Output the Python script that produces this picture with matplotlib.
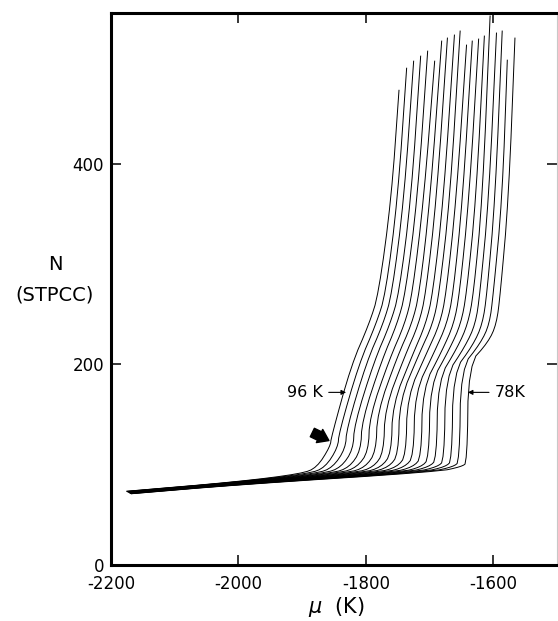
import numpy as np
import matplotlib
matplotlib.use("Agg")
import matplotlib.pyplot as plt

plt.rcParams['font.family'] = 'DejaVu Sans'
plt.rcParams['axes.unicode_minus'] = False

# isotherms, 96 K (left) down to 78 K (right)
temps = [96, 95, 94, 93, 92, 91, 90, 89, 88, 87, 86, 85, 84, 83, 82, 81, 80, 79, 78]

# low-coverage branch
start_mu = [-2175, -2175, -2174, -2174, -2173, -2173, -2172, -2172, -2171, -2171,
            -2171, -2170, -2170, -2170, -2169, -2169, -2169, -2168, -2168]
start_N = [73.5, 73.4, 73.2, 73.1, 73.0, 72.8, 72.7, 72.5, 72.4, 72.3,
           72.1, 72.0, 71.8, 71.7, 71.6, 71.4, 71.3, 71.1, 71.0]
N_2000 = [83.0, 82.8, 82.7, 82.5, 82.3, 82.2, 82.0, 81.8, 81.7, 81.5,
          81.3, 81.2, 81.0, 80.8, 80.7, 80.5, 80.3, 80.2, 80.0]
approach_mu = [-1901, -1889, -1877, -1865, -1853, -1841, -1829, -1817, -1805, -1794,
               -1782, -1770, -1758, -1746, -1734, -1722, -1710, -1698, -1686]
approach_N = [91.0, 91.1, 91.2, 91.3, 91.4, 91.6, 91.7, 91.8, 91.9, 92.0,
              92.1, 92.2, 92.3, 92.4, 92.6, 92.7, 92.8, 92.9, 93.0]
foot_mu = [-1877, -1864, -1852, -1839, -1826, -1814, -1801, -1788, -1776, -1764,
           -1751, -1739, -1726, -1713, -1701, -1688, -1675, -1663, -1650]
foot_N = [97.0, 97.1, 97.1, 97.2, 97.2, 97.3, 97.3, 97.4, 97.4, 97.5,
          97.6, 97.6, 97.7, 97.7, 97.8, 97.8, 97.9, 97.9, 98.0]

# vertical step
step_mu = [-1856, -1844, -1832, -1820, -1808, -1796, -1784, -1772, -1760, -1749,
           -1737, -1725, -1713, -1701, -1689, -1677, -1665, -1653, -1641]
step_N = [118, 117, 116, 115, 114, 113, 113, 112, 111, 110,
          109, 108, 107, 106, 105, 104, 104, 103, 102]
knee_mu = [-1854, -1842, -1830, -1818, -1806, -1794, -1782, -1770, -1758, -1747,
           -1735, -1723, -1711, -1699, -1687, -1675, -1663, -1651, -1639]
knee_N = [128, 132, 136, 140, 144, 148, 152, 156, 160, 164,
          168, 172, 176, 180, 184, 188, 192, 196, 200]

# shoulder and upper branch
shoulder_mu = [-1823, -1811, -1799, -1787, -1775, -1763, -1751, -1739, -1727, -1716,
               -1704, -1692, -1680, -1668, -1656, -1644, -1632, -1620, -1608]
shoulder_N = [199, 200, 202, 203, 204, 205, 207, 208, 209, 211,
              212, 213, 214, 216, 217, 218, 219, 221, 222]
mu_240 = [-1795, -1784, -1773, -1762, -1751, -1739, -1728, -1717, -1706, -1695,
          -1684, -1673, -1662, -1651, -1640, -1628, -1617, -1606, -1595]
mu_270 = [-1780, -1769, -1759, -1748, -1738, -1727, -1716, -1706, -1695, -1685,
          -1674, -1663, -1653, -1642, -1631, -1621, -1610, -1600, -1589]
mu_365 = [-1760, -1750, -1740, -1729, -1719, -1709, -1699, -1689, -1678, -1668,
          -1658, -1648, -1638, -1627, -1617, -1607, -1597, -1586, -1576]
top_mu = [-1748, -1736, -1725, -1714, -1703, -1692, -1681, -1672, -1661, -1652,
          -1642, -1633, -1623, -1614, -1605, -1595, -1586, -1578, -1566]
top_N = [473, 495, 502, 507, 512, 502, 522, 525, 528, 532,
         518, 522, 524, 527, 547, 530, 532, 503, 525]


def chaikin(x, y, n=2):
    p = np.column_stack([x, y]).astype(float)
    for _ in range(n):
        q = 0.75 * p[:-1] + 0.25 * p[1:]
        r = 0.25 * p[:-1] + 0.75 * p[1:]
        mid = np.empty((2 * len(q), 2))
        mid[0::2] = q
        mid[1::2] = r
        p = np.vstack([p[:1], mid, p[-1:]])
    return p[:, 0], p[:, 1]


fig = plt.figure(figsize=(5.58, 6.21), dpi=100)
ax = fig.add_axes([111 / 558, 56 / 621, 446 / 558, 552 / 621])

for i in range(len(temps)):
    mu = [start_mu[i], -2000, approach_mu[i], foot_mu[i], step_mu[i], knee_mu[i],
          shoulder_mu[i], mu_240[i], mu_270[i], mu_365[i], top_mu[i]]
    n = [start_N[i], N_2000[i], approach_N[i], foot_N[i], step_N[i], knee_N[i],
         shoulder_N[i], 240, 270, 365, top_N[i]]
    xs, ys = chaikin(mu, n)
    ax.plot(xs, ys, color='black', lw=0.7)

ax.set_xlim(-2200, -1500)
ax.set_ylim(0, 550)
ax.set_xticks([-2200, -2000, -1800, -1600])
ax.set_xticklabels(['-2200', '-2000', '-1800', '-1600'])
ax.set_yticks([0, 200, 400])
ax.tick_params(direction='in', length=7.5, width=1.1, labelsize=12,
               top=True, right=True, colors='black')
ax.tick_params(axis='x', pad=7)
ax.tick_params(axis='y', pad=5)
for side in ['left', 'top', 'bottom']:
    ax.spines[side].set_linewidth(2.2)
ax.spines['right'].set_linewidth(0.8)
ax.spines['right'].set_color('#c8c8c8')

# temperature labels
ax.annotate('96 K', xy=(-1831, 172), xytext=(-1867, 172), ha='right', va='center',
            fontsize=11.5,
            arrowprops=dict(arrowstyle='-|>', color='black', lw=0.8,
                            mutation_scale=7, shrinkA=2, shrinkB=0))
ax.annotate('78K', xy=(-1640, 172), xytext=(-1598, 172), ha='left', va='center',
            fontsize=11.5,
            arrowprops=dict(arrowstyle='-|>', color='black', lw=0.8,
                            mutation_scale=7, shrinkA=2, shrinkB=0))

# heavy arrow at the onset of the step
ax.annotate('', xy=(-1858, 124), xytext=(-1884, 132),
            arrowprops=dict(arrowstyle='simple,head_length=0.5,head_width=0.7,tail_width=0.45',
                            color='black', mutation_scale=15, shrinkA=0, shrinkB=0))

fig.text(55 / 558, 1 - 264 / 621, 'N', ha='center', va='center', fontsize=14)
fig.text(55 / 558, 1 - 295 / 621, '(STPCC)', ha='center', va='center', fontsize=14)
fig.text(337 / 558, 1 - 607 / 621, r'$\mu$  (K)', ha='center', va='center', fontsize=15)

fig.savefig('out.png', dpi=100)
